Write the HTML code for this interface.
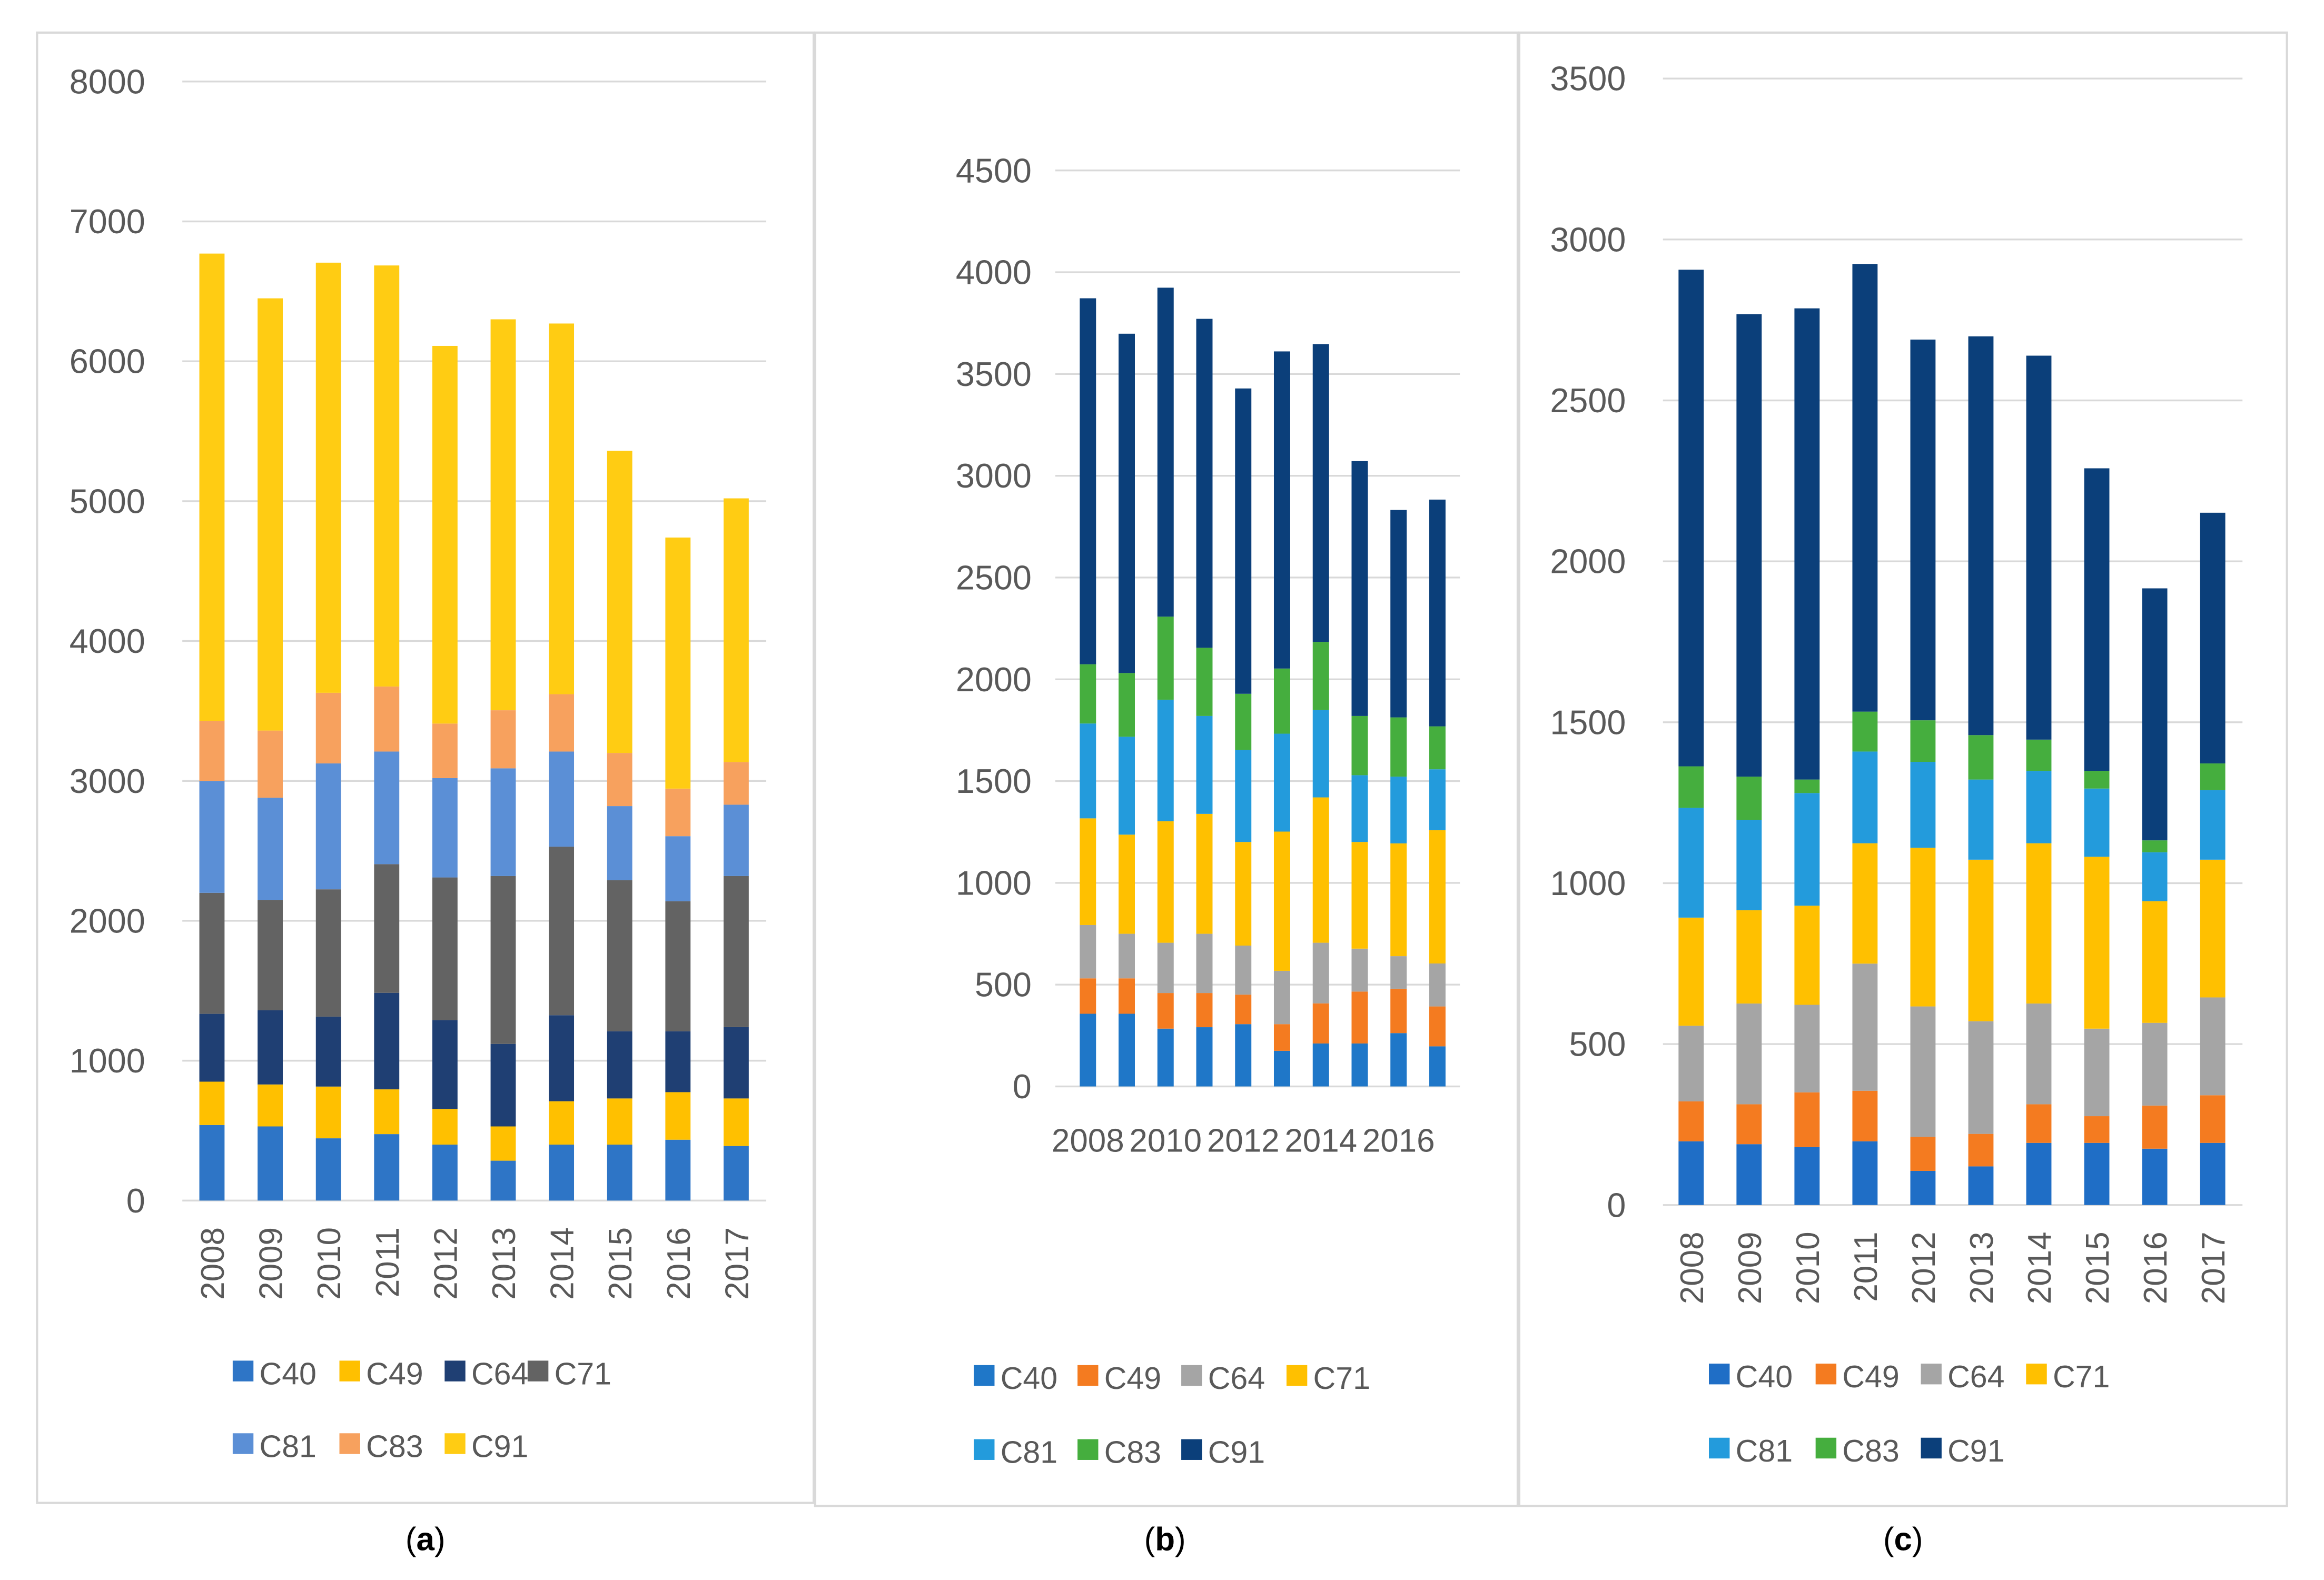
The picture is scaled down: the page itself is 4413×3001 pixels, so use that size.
<!DOCTYPE html>
<html><head><meta charset="utf-8">
<style>
html,body{margin:0;padding:0;background:#fff;}
svg{display:block;}
text{font-family:"Liberation Sans",sans-serif;}
</style></head>
<body>
<svg id="chart" width="4413" height="3001" viewBox="0 0 1568 1066" preserveAspectRatio="none" xmlns="http://www.w3.org/2000/svg"></svg>
<script>
const years = [2008,2009,2010,2011,2012,2013,2014,2015,2016,2017];
const seriesNames = ["C40","C49","C64","C71","C81","C83","C91"];
// Panel a values (per series, per year)
const aC40 = [540,530,445,475,400,285,400,400,435,390];
const aC49 = [310,300,370,320,255,245,310,330,340,340];
const aC64 = [485,530,500,690,635,590,615,480,435,510];
const aC71 = [865,790,910,920,1020,1200,1205,1080,930,1080];
const aC81 = [800,730,900,805,710,770,680,530,465,510];
const aC83 = [430,480,505,465,390,415,410,380,340,305];
const aC91 = [3340,3090,3075,3010,2700,2795,2650,2160,1795,1885];
const aTicks = [0,1000,2000,3000,4000,5000,6000,7000,8000];
// Panel b values
const bC40 = [357,357,284,291,306,175,211,211,262,197];
const bC49 = [174,174,175,168,145,131,197,255,218,196];
const bC64 = [262,219,247,291,241,262,298,211,160,211];
const bC71 = [524,487,597,589,509,684,714,524,554,655];
const bC81 = [466,481,597,481,452,481,429,328,328,299];
const bC83 = [291,313,408,335,276,320,335,291,291,211];
const bC91 = [1798,1667,1616,1616,1500,1558,1463,1252,1019,1114];
const bTicks = [0,500,1000,1500,2000,2500,3000,3500,4000,4500];
const bXLabels = ["2008","2010","2012","2014","2016"];
// Panel c values
const cC40 = [198,189,180,198,106,120,193,193,175,193];
const cC49 = [124,124,170,157,106,101,120,83,134,148];
const cC64 = [235,313,272,395,405,350,313,272,257,304];
const cC71 = [336,290,308,374,493,502,498,534,378,428];
const cC81 = [341,281,350,285,267,249,225,212,152,216];
const cC83 = [129,134,42,124,129,138,97,55,37,83];
const cC91 = [1543,1437,1464,1391,1183,1239,1193,940,783,779];
const cTicks = [0,500,1000,1500,2000,2500,3000,3500];

const NS="http://www.w3.org/2000/svg";
const svg=document.getElementById('chart');
function el(tag,attrs,parent){const e=document.createElementNS(NS,tag);for(const k in attrs)e.setAttribute(k,attrs[k]);(parent||svg).appendChild(e);return e;}

const panels=[
 {id:'a',box:[25,22,524,992],series:[aC40,aC49,aC64,aC71,aC81,aC83,aC91],
  colors:["#2E75C6","#FFC000","#1F3F73","#636363","#5B8FD6","#F7A15E","#FFCC13"],
  ticks:aTicks,max:8000,y0:810,yTop:55,gx0:123,gx1:517,b0:143,bstep:39.3,bw:17,labelX:98,rot:true,
  leg:{x:[157,229,300,356],y:[926,975]},cap:287},
 {id:'b',box:[550,22,474,994],series:[bC40,bC49,bC64,bC71,bC81,bC83,bC91],
  colors:["#1F77C8","#F47B20","#A5A5A5","#FFC000","#239BDC","#45AE3E","#0B3F7A"],
  ticks:bTicks,max:4500,y0:733,yTop:115,gx0:712,gx1:985,b0:734,bstep:26.2,bw:11,labelX:696,rot:false,
  leg:{x:[657,727,797,868],y:[929,979]},cap:786},
 {id:'c',box:[1025,22,518,994],series:[cC40,cC49,cC64,cC71,cC81,cC83,cC91],
  colors:["#1F6EC6","#F47B20","#A5A5A5","#FFC000","#239BDC","#45AE3E","#0B3F7A"],
  ticks:cTicks,max:3500,y0:813,yTop:53,gx0:1122,gx1:1513,b0:1141,bstep:39.1,bw:17,labelX:1097,rot:true,
  leg:{x:[1153,1225,1296,1367],y:[928,978]},cap:1284}
];

panels.forEach(p=>{
 const g=el('g',{});
 
 
 const r=el('rect',{x:p.box[0],y:p.box[1],width:p.box[2],height:p.box[3],fill:'#fff',stroke:'#d9d9d9','stroke-width':1.5},g);
 
 
 const yScale=v=>p.y0-(v/p.max)*(p.y0-p.yTop);
 p.ticks.forEach(t=>{
  const ln=el('line',{x1:p.gx0,x2:p.gx1,y1:yScale(t),y2:yScale(t),stroke:'#d9d9d9','stroke-width':1.2},g);
  
  
  const tx=el('text',{x:p.labelX,y:yScale(t)+8,'text-anchor':'end','font-size':23,fill:'#595959'},g);
  tx.textContent=t;
  
  
 });
 years.forEach((yr,i)=>{
  const cx=p.b0+i*p.bstep;
  let cum=0;
  p.series.forEach((s,si)=>{
   const v=s[i];
   const yt=yScale(cum+v), yb=yScale(cum);
   const b=el('rect',{x:cx-p.bw/2,y:yt,width:p.bw,height:yb-yt,fill:p.colors[si]},g);
   
   
   cum+=v;
  });
  if(p.rot){
   const tx=el('text',{x:0,y:0,'text-anchor':'end','font-size':22,fill:'#595959',transform:`translate(${cx+8},${p.y0+18}) rotate(-90)`},g);
   tx.textContent=yr;
   
   
  }
 });
 if(!p.rot){
  bXLabels.forEach(l=>{
   const i=years.indexOf(+l);
   const tx=el('text',{x:p.b0+i*p.bstep,y:p.y0+44,'text-anchor':'middle','font-size':22,fill:'#595959'},g);
   tx.textContent=l;
   
   
  });
 }
 seriesNames.forEach((n,si)=>{
  const row=si<4?0:1, col=si<4?si:si-4;
  const lx=p.leg.x[col], ly=p.leg.y[row];
  const lg=el('g',{},g);
  
  
  el('rect',{x:lx,y:ly-8,width:14,height:14,fill:p.colors[si]},lg);
  const tx=el('text',{x:lx+18,y:ly+8,'font-size':21,fill:'#595959'},lg);
  tx.textContent=n;
 });
 const cap=el('text',{x:p.cap,y:1046,'text-anchor':'middle','font-size':22,fill:'#000','font-family':'"Liberation Serif",serif'},svg);
 cap.innerHTML='(<tspan font-weight="bold">'+p.id+'</tspan>)';
 
 
});
</script>
</body></html>
